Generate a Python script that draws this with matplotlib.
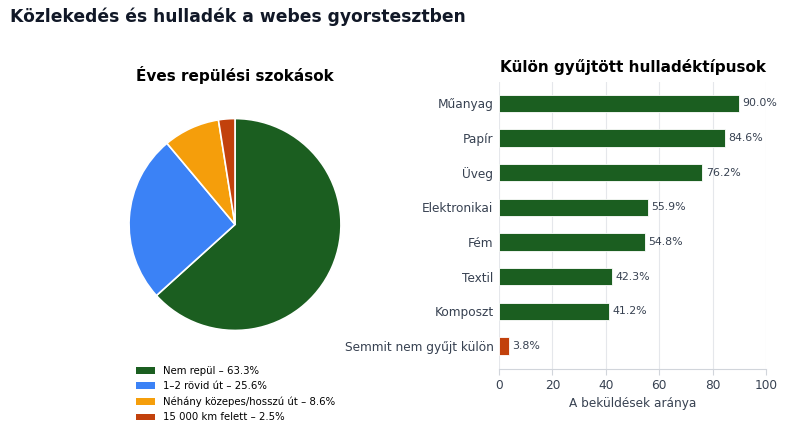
import numpy as np
from matplotlib import pyplot as plt
from matplotlib.patches import Patch

# pie data
pie_labels = ['Nem repül', '1–2 rövid út', 'Néhány közepes/hosszú út', '15 000 km felett']
pie_values = [63.3, 25.6, 8.6, 2.5]
pie_colors = ['#1b5e20', '#3b82f6', '#f59e0b', '#c2410c']

# bar data
waste_types = ['Műanyag', 'Papír', 'Üveg', 'Elektronikai', 'Fém', 'Textil',
               'Komposzt', 'Semmit nem gyűjt külön']
waste_share = [90.0, 84.6, 76.2, 55.9, 54.8, 42.3, 41.2, 3.8]
bar_colors = ['#1b5e20'] * 7 + ['#c2410c']

txt_col = '#374151'
W, H = 787, 437
fig = plt.figure(figsize=(W / 100, H / 100), dpi=100)
fig.patch.set_facecolor('white')

fig.text(10 / W, 1 - 17 / H, 'Közlekedés és hulladék a webes gyorstesztben',
         fontsize=12.3, fontweight='bold', color='#111827', va='center', ha='left')

# pie
ax1 = fig.add_axes([128 / W, 1 - 332 / H, 214 / W, 215 / H])
ax1.pie(pie_values, colors=pie_colors, startangle=90, counterclock=False,
        wedgeprops=dict(edgecolor='white', linewidth=1.2))
ax1.set_xlim(-1.01, 1.01)
ax1.set_ylim(-1.01, 1.01)
ax1.set_aspect('equal')
fig.text(235 / W, 1 - 75 / H, 'Éves repülési szokások', fontsize=11,
         fontweight='bold', ha='center', va='center')

handles = [Patch(facecolor=c, edgecolor='none') for c in pie_colors]
labels = ['%s – %.1f%%' % (l, v) for l, v in zip(pie_labels, pie_values)]
fig.legend(handles, labels, loc='upper left', bbox_to_anchor=(136 / W, 1 - 366 / H),
           frameon=False, fontsize=7.3, handlelength=1.9, handleheight=0.6,
           labelspacing=0.52, handletextpad=0.8, borderaxespad=0, borderpad=0)

# bars
ax2 = fig.add_axes([499 / W, 1 - 369 / H, 267 / W, 287 / H])
y = np.arange(len(waste_types))
ax2.barh(y, waste_share, height=0.5, color=bar_colors, edgecolor='white', linewidth=0.6)
ax2.set_ylim(len(waste_types) - 0.34, -0.62)
ax2.set_xlim(0, 100)
ax2.set_yticks(y)
ax2.set_yticklabels(waste_types, fontsize=8.7, color=txt_col)
ax2.set_xticks([0, 20, 40, 60, 80, 100])
ax2.tick_params(axis='x', labelsize=8.7, labelcolor=txt_col, color='#d1d5db', length=4)
ax2.tick_params(axis='y', length=0, pad=4)
for s in ['top', 'right', 'left']:
    ax2.spines[s].set_visible(False)
ax2.spines['bottom'].set_color('#d1d5db')
ax2.grid(axis='x', color='#e5e7eb', linewidth=0.8)
ax2.set_axisbelow(True)
for yi, v in zip(y, waste_share):
    ax2.text(v + 1.2, yi, '%.1f%%' % v, va='center', ha='left', fontsize=7.9, color=txt_col)
ax2.set_xlabel('A beküldések aránya', fontsize=8.7, color=txt_col, labelpad=3)
ax2.set_title('Külön gyűjtött hulladéktípusok', fontsize=11, fontweight='bold', pad=7)

fig.savefig('out.png', dpi=100)
